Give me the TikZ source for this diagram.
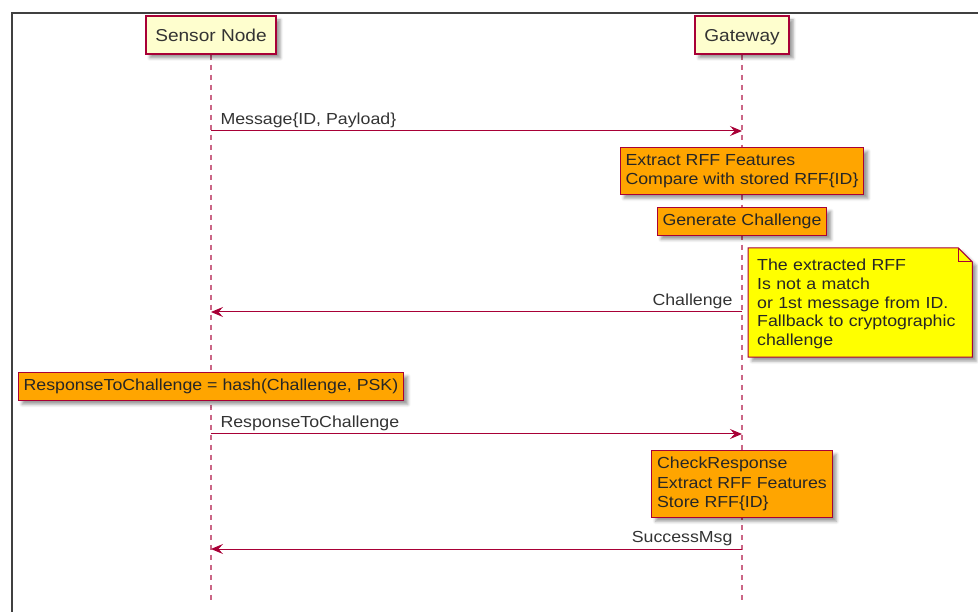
\documentclass[tikz,border=0pt]{standalone}
\usepackage{fontspec}
\setmainfont{Liberation Sans}[FakeStretch=1.11]
\usetikzlibrary{arrows.meta,shadows.blur,backgrounds}
\definecolor{umlred}{HTML}{A80036}
\definecolor{umlactor}{HTML}{FEFECE}
\definecolor{umlorange}{HTML}{FFA500}
\definecolor{umlnote}{HTML}{FFFF00}
\definecolor{umltext}{HTML}{333333}

\begin{document}
\begin{tikzpicture}[x=1pt,y=-1pt,
  shade/.style={blur shadow={shadow xshift=4pt, shadow yshift=-4pt, shadow blur radius=3pt, shadow opacity=40}},
  actor/.style={rectangle, draw=umlred, line width=1.5pt, fill=umlactor, inner xsep=9.5pt, minimum height=38pt, text height=12.3pt, text depth=0pt, font=\fontsize{17.2}{20}\selectfont, text=umltext, shade},
  task/.style={rectangle, draw=umlred, line width=1pt, fill=umlorange, align=left, inner xsep=5.5pt, inner ysep=6.5pt, font=\fontsize{16}{19.5}\selectfont, text=black!85, shade},
  notebox/.style={draw=umlred, line width=1pt, fill=umlnote, shade},
  msg/.style={draw=umlred, line width=1pt, -{Stealth[length=12pt,width=10pt,inset=4.5pt]}},
  life/.style={draw=umlred!60, line width=1.3pt, dash pattern=on 5pt off 5pt},
  lbl/.style={font=\fontsize{16}{19.5}\selectfont, text=umltext, inner sep=2pt, yshift=1pt},
  ]
\useasboundingbox (0,0) rectangle (978,612);
\draw[black!75, line width=1.5pt] (12,612) -- (12,13) -- (978,13);

\path (211,35) node[actor](sensor) {Sensor Node}
(742,35) node[actor](gw) {Gateway};
\coordinate (sensor end) at (211,604);
\coordinate (gw end) at (742,604);

%\draw[->,umlred] (sensor) -- (gw);
\path (742,147) node[task, anchor=north](extract) {Extract RFF Features\\Compare with stored RFF\{ID\}}
(742,207) node[task, anchor=north](generate) {Generate Challenge}
(748,251) node[anchor=north west, align=left, inner xsep=9pt, inner ysep=8pt, text width=206pt, minimum height=103pt, font=\fontsize{16}{18.7}\selectfont, text=black!85](note) {The extracted RFF\\Is not a match\\or 1st message from ID.\\Fallback to cryptographic\\challenge}
(211,372) node[task, anchor=north](hash) {ResponseToChallenge = hash(Challenge, PSK)}
(742,450) node[task, anchor=north](check) {CheckResponse\\Extract RFF Features\\Store RFF\{ID\}};

\coordinate (s1) at (211,131); \coordinate (g1) at (742,131);
\coordinate (s2) at (211,312); \coordinate (g2) at (742,312);
\coordinate (s3) at (211,434); \coordinate (g3) at (742,434);
\coordinate (s4) at (211,549); \coordinate (g4) at (742,549);

\draw[msg] (s1) -- node[lbl, at start, anchor=south west, xshift=7pt] {Message\{ID, Payload\}} (g1);
\draw[msg] (g2) -- node[lbl, at start, anchor=south east, xshift=-7pt] {Challenge} (s2);
\draw[msg] (s3) -- node[lbl, at start, anchor=south west, xshift=7pt] {ResponseToChallenge} (g3);
\draw[msg] (g4) -- node[lbl, at start, anchor=south east, xshift=-7pt] {SuccessMsg} (s4);

\begin{scope}[on background layer]
\draw[life] (sensor) -- (sensor end);
\draw[life] (gw) -- (gw end);
\draw[notebox] ([yshift=3pt]note.north west) -- ([xshift=-14pt,yshift=3pt]note.north east) -- ([yshift=-11pt]note.north east) -- (note.south east) -- (note.south west) -- cycle;
\draw[umlred, line width=1pt] ([xshift=-14pt,yshift=3pt]note.north east) |- ([yshift=-11pt]note.north east);
\end{scope}
\end{tikzpicture}
\end{document}
